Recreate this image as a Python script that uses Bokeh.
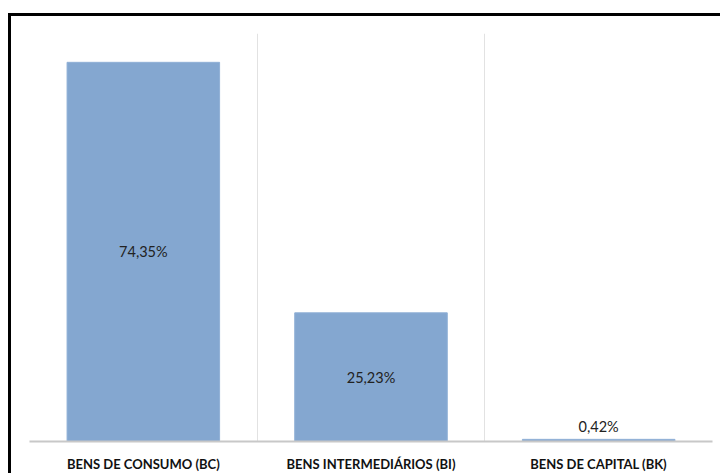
from bokeh.plotting import figure
from bokeh.models import Range1d, FixedTicker, ColumnDataSource
from bokeh.core.properties import value
from bokeh.embed import file_html
from bokeh.resources import INLINE

categories = ["BENS DE CONSUMO (BC)", "BENS INTERMEDIÁRIOS (BI)", "BENS DE CAPITAL (BK)"]
shares = [74.35, 25.23, 0.42]
y_max = 80

xs = [i + 0.5 for i in range(len(categories))]
labels = [f"{v:.2f}".replace(".", ",") + "%" for v in shares]
inside = [v > 5 for v in shares]
label_y = [v / 2 if ins else v for v, ins in zip(shares, inside)]
label_off = [0 if ins else -13 for ins in inside]

src = ColumnDataSource(dict(x=xs, top=shares, lab=labels, ly=label_y, off=label_off))

p = figure(width=712, height=460, x_range=Range1d(0, len(categories)), y_range=Range1d(0, y_max),
           output_backend="svg", toolbar_location=None,
           min_border_left=18, min_border_right=11, min_border_top=17, min_border_bottom=35)
p.styles = {"border-top": "3px solid black", "border-left": "3px solid black",
            "margin-top": "13px", "margin-left": "8px"}
p.outline_line_color = None
p.background_fill_color = "white"
p.border_fill_color = "white"

p.vbar(x="x", top="top", width=0.67, bottom=0, source=src, color="#84A7D0", line_color="#90B0D6")
p.text(x="x", y="ly", text="lab", y_offset="off", source=src, text_align="center", text_baseline="middle",
       text_font=value("Lato"), text_font_size="14.5px", text_color="#222222")

p.yaxis.visible = False
p.ygrid.visible = False
p.xgrid.ticker = FixedTicker(ticks=list(range(len(categories) + 1)))
p.xgrid.grid_line_color = "#e2e2e2"
p.xgrid.grid_line_width = 1

p.xaxis.ticker = FixedTicker(ticks=xs)
p.xaxis.major_label_overrides = {x: c for x, c in zip(xs, categories)}
p.xaxis.major_tick_line_color = None
p.xaxis.minor_tick_line_color = None
p.xaxis.major_tick_out = 0
p.xaxis.major_tick_in = 0
p.xaxis.minor_tick_out = 0
p.xaxis.axis_line_color = "#c8c8c8"
p.xaxis.axis_line_width = 2
p.xaxis.major_label_standoff = 14
p.xaxis.major_label_text_font = "Lato"
p.xaxis.major_label_text_font_style = "bold"
p.xaxis.major_label_text_font_size = "13px"
p.xaxis.major_label_text_color = "#111111"

open("out.html", "w").write(file_html(p, INLINE))
